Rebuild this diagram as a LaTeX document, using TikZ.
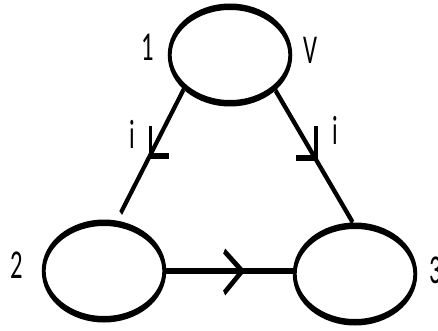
\documentclass[tikz,border=0pt]{standalone}
\usepackage{fontspec}
\setmainfont{Carlito}
\usetikzlibrary{shapes.geometric,calc}
\begin{document}
\begin{tikzpicture}
\useasboundingbox[fill=white] (0,0) rectangle (438pt,-331pt);
\begin{scope}[transform canvas={xscale=0.6}, x=1.6667pt, y=-1pt,
  nd/.style={ellipse, draw, line width=6.5pt, minimum width=201pt, minimum height=96.5pt, inner sep=0pt},
  wire/.style={line width=6pt},
  lbl/.style={inner sep=0pt, font=\fontsize{41}{41}\selectfont}]
  \node[nd] (n1) at (230,55) {};
  \node[nd] (n2) at (104,271) {};
  \node[nd] (n3) at (355,274) {};
  \node[lbl] (l1) at (148,47) {1};
  \node[lbl] (lv) at (310,50) {V};
  \node[lbl] (l2) at (17,265) {2};
  \node[lbl] (l3) at (436,270) {3};
  \node[lbl] (li1) at (132,134) {i};
  \node[lbl] (li2) at (335,130) {i};
  \draw[wire, shorten >=10pt] (n1.204) -- coordinate[pos=0.51] (m1) (n2.67);
  \draw[wire] (n1.335) -- coordinate[pos=0.51] (m2) (n3.94);
  \draw[wire] (n2.east) -- coordinate[pos=0.6] (t) (n2.east -| n3.west);
  \draw[wire] ($(m1)+(1,-30)$) -- ($(m1)+(1,0)$) -- ($(m1)+(19,0)$);
  \draw[wire] ($(m2)+(1,-32)$) -- ($(m2)+(1,0)$) -- ($(m2)+(-19,0)$);
  \draw[wire] ($(t)+(-18,-20)$) -- (t) -- ($(t)+(-18,22)$);
\end{scope}
\end{tikzpicture}
\end{document}
